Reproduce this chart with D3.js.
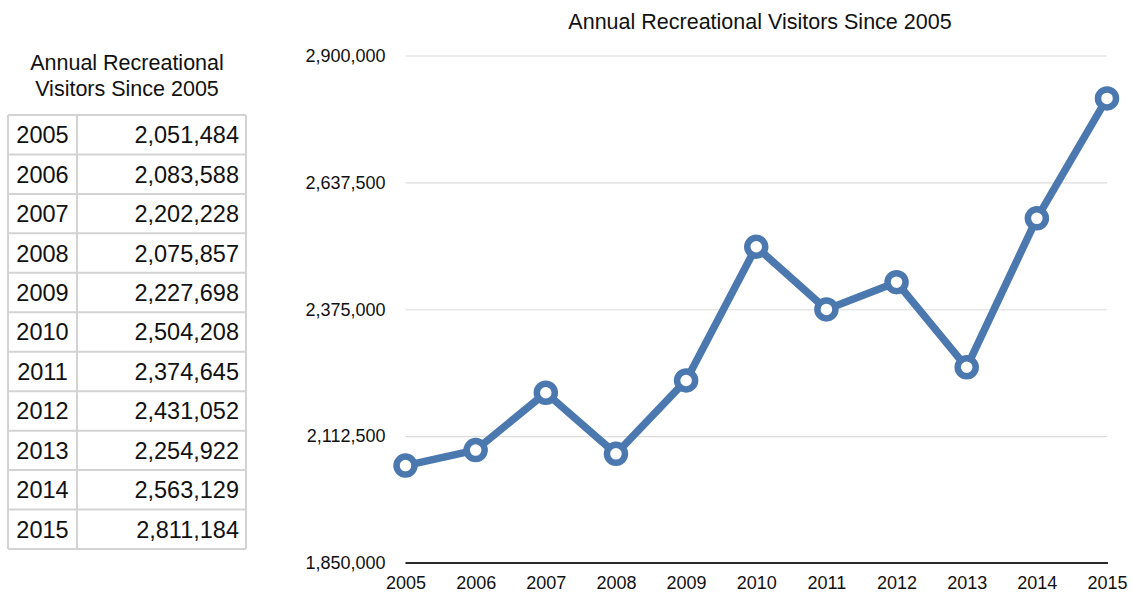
<!DOCTYPE html>
<html>
<head>
<meta charset="utf-8">
<script src="https://cdn.jsdelivr.net/npm/d3@7"></script>
<style>
  html, body { margin: 0; padding: 0; background: #fff; }
  svg { display: block; font-family: "Liberation Sans", Arial, Helvetica, sans-serif; }
</style>
</head>
<body>
<svg id="chart" width="1132" height="592"></svg>
<script>
// Annual recreational visitors, 2005–2015
const years = [2005, 2006, 2007, 2008, 2009, 2010, 2011, 2012, 2013, 2014, 2015];
const visitors = [2051484, 2083588, 2202228, 2075857, 2227698, 2504208, 2374645, 2431052, 2254922, 2563129, 2811184];
const yTicks = [1850000, 2112500, 2375000, 2637500, 2900000];
const title = "Annual Recreational Visitors Since 2005";
const tableTitle = ["Annual Recreational", "Visitors Since 2005"];

const data = years.map((y, i) => ({ year: y, value: visitors[i] }));
const fmt = d3.format(",");
const svg = d3.select("#chart");
const lineColor = "#4b78ae";
const textColor = "#111";

// ---------- Table on the left ----------
const table = { left: 8, right: 246, top: 115, bottom: 549, divider: 77 };
const rowScale = d3.scaleBand()
  .domain(years)
  .range([table.top, table.bottom]);

const tg = svg.append("g").attr("class", "table");

tg.selectAll("text.ttitle")
  .data(tableTitle)
  .join("text")
  .attr("class", "ttitle")
  .attr("x", (table.left + table.right) / 2)
  .attr("y", (d, i) => 70 + i * 26)
  .attr("text-anchor", "middle")
  .attr("font-size", 21.5)
  .attr("fill", textColor)
  .text(d => d);

// cell rows
const rows = tg.selectAll("g.row")
  .data(data)
  .join("g")
  .attr("class", "row")
  .attr("transform", d => `translate(0,${rowScale(d.year)})`);

rows.append("text")
  .attr("x", (table.left + table.divider) / 2)
  .attr("y", rowScale.bandwidth() / 2)
  .attr("dy", "0.36em")
  .attr("text-anchor", "middle")
  .attr("font-size", 23.5)
  .attr("fill", textColor)
  .text(d => d.year);

rows.append("text")
  .attr("x", table.right - 7)
  .attr("y", rowScale.bandwidth() / 2)
  .attr("dy", "0.36em")
  .attr("text-anchor", "end")
  .attr("font-size", 23.5)
  .attr("fill", textColor)
  .text(d => fmt(d.value));

// grid lines of the table
const gridColor = "#d3d3d3";
const hLines = d3.range(years.length + 1).map(i => table.top + i * rowScale.bandwidth());
tg.selectAll("line.h")
  .data(hLines)
  .join("line")
  .attr("class", "h")
  .attr("x1", table.left).attr("x2", table.right)
  .attr("y1", d => d).attr("y2", d => d)
  .attr("stroke", gridColor).attr("stroke-width", 2);
tg.selectAll("line.v")
  .data([table.left, table.divider, table.right])
  .join("line")
  .attr("class", "v")
  .attr("x1", d => d).attr("x2", d => d)
  .attr("y1", table.top).attr("y2", table.bottom)
  .attr("stroke", gridColor).attr("stroke-width", 2);

// ---------- Line chart ----------
const plot = { left: 405.5, right: 1107, top: 55.5, bottom: 563 };

const x = d3.scalePoint()
  .domain(years)
  .range([plot.left, plot.right]);

const y = d3.scaleLinear()
  .domain([1850000, 2900000])
  .range([plot.bottom, plot.top]);

svg.append("text")
  .attr("x", (567 + 953) / 2)
  .attr("y", 29)
  .attr("text-anchor", "middle")
  .attr("font-size", 21.5)
  .attr("fill", textColor)
  .text(title);

// horizontal gridlines with value labels
const yAxis = d3.axisLeft(y)
  .tickValues(yTicks)
  .tickFormat(fmt)
  .tickSize(-(plot.right - plot.left))
  .tickPadding(20);

const yg = svg.append("g")
  .attr("transform", `translate(${plot.left},0)`)
  .call(yAxis);
yg.select(".domain").remove();
yg.selectAll(".tick line")
  .attr("stroke", "#dcdcdc")
  .attr("stroke-width", 1.2);
yg.selectAll(".tick text")
  .attr("font-size", 18)
  .attr("font-family", "Liberation Sans, Arial, sans-serif")
  .attr("fill", textColor);
yg.selectAll(".tick")
  .filter(d => d === yTicks[0])
  .select("line").remove();

// baseline axis with year labels
const xAxis = d3.axisBottom(x)
  .tickSize(0)
  .tickPadding(13.5);
const xg = svg.append("g")
  .attr("transform", `translate(0,${plot.bottom})`)
  .call(xAxis);
xg.select(".domain")
  .attr("stroke", "#2a2a2a")
  .attr("stroke-width", 2.2)
  .attr("d", `M${plot.left},0H${plot.right + 1}`);
xg.selectAll(".tick text")
  .attr("font-size", 18)
  .attr("font-family", "Liberation Sans, Arial, sans-serif")
  .attr("fill", textColor);

// series line
const line = d3.line()
  .x(d => x(d.year))
  .y(d => y(d.value));

svg.append("path")
  .datum(data)
  .attr("d", line)
  .attr("fill", "none")
  .attr("stroke", lineColor)
  .attr("stroke-width", 7.5)
  .attr("stroke-linejoin", "round")
  .attr("stroke-linecap", "round");

// hollow markers
svg.selectAll("circle.pt")
  .data(data)
  .join("circle")
  .attr("class", "pt")
  .attr("cx", d => x(d.year))
  .attr("cy", d => y(d.value))
  .attr("r", 9)
  .attr("fill", "#fff")
  .attr("stroke", lineColor)
  .attr("stroke-width", 6.5);
</script>
</body>
</html>
